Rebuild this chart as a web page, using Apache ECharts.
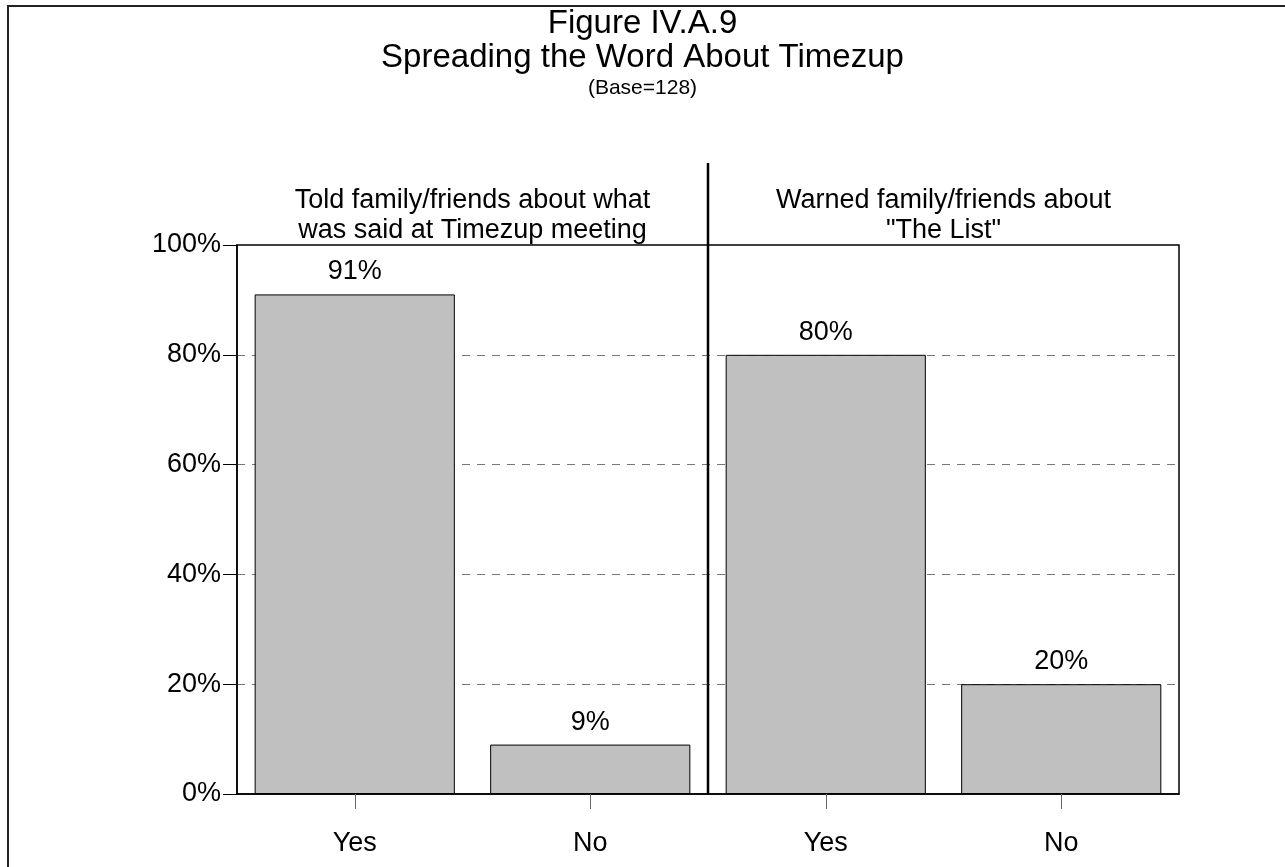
<!DOCTYPE html>
<html>
<head>
<meta charset="utf-8">
<script src="https://cdn.jsdelivr.net/npm/echarts@6/dist/echarts.min.js"></script>
<style>
html,body{margin:0;padding:0;background:#fff;}
#c{width:1285px;height:867px;}
</style>
</head>
<body>
<div id="c"></div>
<script>
const categories = ['Yes', 'No', 'Yes', 'No'];
const values = [91, 9, 80, 20];
const yTicks = [0, 20, 40, 60, 80, 100];
const groupHeaders = ['Told family/friends about what\nwas said at Timezup meeting', 'Warned family/friends about\n"The List"'];
const titleLines = ['Figure IV.A.9', 'Spreading the Word About Timezup'];
const baseText = '(Base=128)';

const FONT = '"Liberation Sans", Arial, sans-serif';
const G = {left: 237, right: 106, top: 245, bottom: 73};
const W = 1285, H = 867;
const plotL = G.left, plotR = W - G.right, plotT = G.top, plotB = H - G.bottom;
const mid = (plotL + plotR) / 2;

const chart = echarts.init(document.getElementById('c'), null, {renderer: 'canvas'});
const option = {
  backgroundColor: '#fff',
  animation: false,
  textStyle: {fontFamily: FONT, color: '#000'},
  grid: {left: G.left, right: G.right, top: G.top, bottom: G.bottom, show: true, borderColor: '#000', borderWidth: 1.5, backgroundColor: 'transparent'},
  xAxis: {
    type: 'category', data: categories,
    axisLine: {show: true, lineStyle: {color: '#000', width: 1.5}},
    axisTick: {show: true, alignWithLabel: true, length: 15, lineStyle: {color: '#666', width: 1}},
    axisLabel: {fontSize: 27, color: '#000', fontFamily: FONT, margin: 36}
  },
  yAxis: {
    type: 'value', min: yTicks[0], max: yTicks[yTicks.length - 1], interval: 20,
    axisLine: {show: true, lineStyle: {color: '#000', width: 1.5}},
    axisTick: {show: true, length: 14, lineStyle: {color: '#000', width: 1}},
    axisLabel: {fontSize: 27, color: '#000', fontFamily: FONT, margin: 16, formatter: '{value}%'},
    splitLine: {show: true, showMinLine: false, showMaxLine: false, lineStyle: {color: '#777', type: [8, 7], width: 1}}
  },
  series: [{
    type: 'bar', data: values, barWidth: '85%',
    itemStyle: {color: '#c0c0c0', borderColor: '#000', borderWidth: 1},
    label: {show: true, position: 'top', distance: 9, fontSize: 27, color: '#000', fontFamily: FONT, formatter: '{c}%'}
  }],
  graphic: [
    {type: 'rect', shape: {x: 8, y: 6, width: W + 20, height: H + 20}, style: {fill: 'none', stroke: '#222', lineWidth: 2}, silent: true, z: 100},
    {type: 'text', x: W / 2, y: 7, style: {text: titleLines.join('\n'), font: '33px ' + FONT, fill: '#000', textAlign: 'center', textVerticalAlign: 'top', lineHeight: 34}},
    {type: 'text', x: W / 2, y: 78, style: {text: baseText, font: '21px ' + FONT, fill: '#000', textAlign: 'center', textVerticalAlign: 'top'}},
    {type: 'text', x: (plotL + mid) / 2, y: 186, style: {text: groupHeaders[0], font: '27px ' + FONT, fill: '#000', textAlign: 'center', textVerticalAlign: 'top', lineHeight: 30}},
    {type: 'text', x: (mid + plotR) / 2, y: 186, style: {text: groupHeaders[1], font: '27px ' + FONT, fill: '#000', textAlign: 'center', textVerticalAlign: 'top', lineHeight: 30}},
    {type: 'line', shape: {x1: mid, y1: 163, x2: mid, y2: plotB}, style: {stroke: '#000', lineWidth: 2.5}, z: 50}
  ]
};
chart.setOption(option);
</script>
</body>
</html>
